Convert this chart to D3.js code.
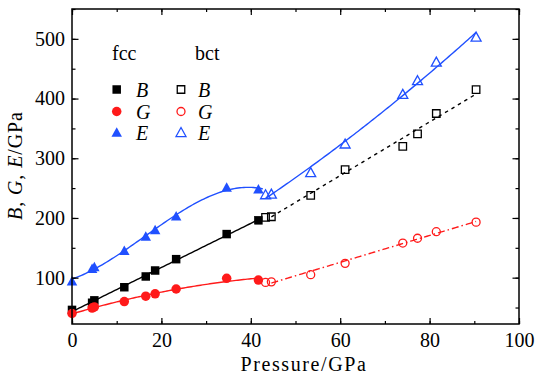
<!DOCTYPE html>
<html>
<head>
<meta charset="utf-8">
<script src="https://cdn.jsdelivr.net/npm/d3@7"></script>
<style>
  html, body { margin: 0; padding: 0; background: #fff; }
  svg { display: block; }
</style>
</head>
<body>
<svg id="chart" width="536" height="379" font-family="Liberation Serif"></svg>
<script>
// ---- data ----
const pressureFcc = [0, 4.5, 5.0, 11.7, 16.5, 18.6, 23.3, 34.6, 41.7];
const bFcc = [46, 58, 62, 84, 102, 112, 131, 173, 196];
const gFcc = [40, 49, 51, 60, 69, 73, 81, 99, 96];
const eFcc = [94, 115, 118, 145, 169, 180, 203, 251, 248];

const pressureBct = [43.3, 44.6, 53.4, 61.1, 74.0, 77.3, 81.5, 90.4];
const bBct = [201, 202, 238, 281, 320, 341, 375, 415];
const gBct = [92, 93, 105, 124, 158, 166, 177, 193];
const eBct = [239, 240, 276, 324, 407, 430, 461, 503];

const xTicks = [0, 20, 40, 60, 80, 100];
const yTicks = [100, 200, 300, 400, 500];

const BLUE = "#2050ff", RED = "#ff1a1a", BLACK = "#000";
const FONT = "Liberation Serif";

// ---- layout ----
const svg = d3.select("#chart");
const mLeft = 72, mRight = 519, mTop = 9, mBottom = 324;
const x = d3.scaleLinear().domain([0, 100]).range([mLeft, mRight]);
const y = d3.scaleLinear().domain([22.4, 550]).range([mBottom, mTop]);

// ---- least-squares polynomial fit ----
function polyfit(xs, ys, deg) {
  const n = deg + 1;
  const A = Array.from({length: n}, () => new Array(n + 1).fill(0));
  for (let k = 0; k < xs.length; k++) {
    for (let i = 0; i < n; i++) {
      for (let j = 0; j < n; j++) A[i][j] += Math.pow(xs[k], i + j);
      A[i][n] += ys[k] * Math.pow(xs[k], i);
    }
  }
  for (let i = 0; i < n; i++) {
    let p = i;
    for (let r = i + 1; r < n; r++) if (Math.abs(A[r][i]) > Math.abs(A[p][i])) p = r;
    [A[i], A[p]] = [A[p], A[i]];
    for (let r = 0; r < n; r++) {
      if (r === i) continue;
      const f = A[r][i] / A[i][i];
      for (let c = i; c <= n; c++) A[r][c] -= f * A[i][c];
    }
  }
  const coef = A.map((row, i) => row[n] / row[i]);
  return v => coef.reduce((s, c, i) => s + c * Math.pow(v, i), 0);
}
function fitLine(xs, ys, deg, x0, x1) {
  const f = polyfit(xs, ys, deg);
  return d3.range(0, 101).map(i => { const p = x0 + (x1 - x0) * i / 100; return [p, f(p)]; });
}
const line = d3.line().x(d => x(d[0])).y(d => y(d[1]));

// ---- fit curves ----
const fits = [
  {pts: fitLine(pressureFcc, eFcc, 3, 0, 42.7), color: BLUE, dash: null},
  {pts: fitLine(pressureFcc, bFcc, 1, 0, 41.7), color: BLACK, dash: null},
  {pts: fitLine(pressureFcc, gFcc, 2, 0, 41.7), color: RED, dash: null},
  {pts: fitLine(pressureBct, eBct, 2, 43.3, 90.4), color: BLUE, dash: null},
  {pts: fitLine(pressureBct, bBct, 1, 44.6, 90.4), color: BLACK, dash: "3.5,4"},
  {pts: fitLine(pressureBct, gBct, 1, 44.6, 90.4), color: RED, dash: "7,3,1.5,3"},
];
svg.append("g").selectAll("path").data(fits).join("path")
  .attr("d", d => line(d.pts))
  .attr("fill", "none")
  .attr("stroke", d => d.color)
  .attr("stroke-width", 1.4)
  .attr("stroke-dasharray", d => d.dash);

// ---- markers ----
function markerPath(shape, s) {
  if (shape === "square") return `M${-s/2},${-s/2}h${s}v${s}h${-s}Z`;
  if (shape === "triangle") { const h = s * 0.9; return `M0,${-h*0.55}L${s/2},${h*0.45}L${-s/2},${h*0.45}Z`; }
  const r = s / 2;
  return `M${r},0A${r},${r} 0 1,1 ${-r},0A${r},${r} 0 1,1 ${r},0Z`;
}
function drawMarkers(g, xs, ys, shape, color, filled, size) {
  g.append("g").selectAll("path").data(xs.map((p, i) => [p, ys[i]])).join("path")
    .attr("transform", d => `translate(${x(d[0])},${y(d[1])})`)
    .attr("d", markerPath(shape, size))
    .attr("fill", filled ? color : "none")
    .attr("stroke", filled ? "none" : color)
    .attr("stroke-width", 1.3);
}
const mg = svg.append("g");
drawMarkers(mg, pressureFcc, bFcc, "square", BLACK, true, 8.5);
drawMarkers(mg, pressureFcc, gFcc, "circle", RED, true, 9.5);
drawMarkers(mg, pressureFcc, eFcc, "triangle", BLUE, true, 10.5);
drawMarkers(mg, pressureBct, bBct, "square", BLACK, false, 7.5);
drawMarkers(mg, pressureBct, gBct, "circle", RED, false, 8);
drawMarkers(mg, pressureBct, eBct, "triangle", BLUE, false, 10);

// ---- axes (ticks inward on all four sides) ----
const fs = 20;
function styleAxis(g) {
  g.attr("font-family", FONT).attr("font-size", fs);
  g.select(".domain").remove();
  g.selectAll("line").attr("stroke", "#000").attr("stroke-width", 1.2);
}
function styleText(sel) {
  sel.attr("font-size", fs).attr("font-family", FONT).attr("fill", "#000");
}
const xMinor = d3.range(0, 101, 10);
const yMinor = d3.range(50, 551, 50);
// bottom
svg.append("g").attr("transform", `translate(0,${mBottom})`)
  .call(d3.axisBottom(x).tickValues(xMinor).tickSize(-3).tickFormat(""))
  .call(styleAxis);
svg.append("g").attr("transform", `translate(0,${mBottom})`)
  .call(d3.axisBottom(x).tickValues(xTicks).tickSize(-6).tickPadding(9).tickFormat(d3.format("d")))
  .call(styleAxis)
  .call(g => g.selectAll("text").call(styleText));
// top
svg.append("g").attr("transform", `translate(0,${mTop})`)
  .call(d3.axisTop(x).tickValues(xMinor).tickSize(-3).tickFormat(""))
  .call(styleAxis);
svg.append("g").attr("transform", `translate(0,${mTop})`)
  .call(d3.axisTop(x).tickValues(xTicks).tickSize(-6).tickFormat(""))
  .call(styleAxis);
// left
svg.append("g").attr("transform", `translate(${mLeft},0)`)
  .call(d3.axisLeft(y).tickValues(yMinor).tickSize(-3.5).tickFormat(""))
  .call(styleAxis);
svg.append("g").attr("transform", `translate(${mLeft},0)`)
  .call(d3.axisLeft(y).tickValues(yTicks).tickSize(-6.5).tickPadding(7).tickFormat(d3.format("d")))
  .call(styleAxis)
  .call(g => g.selectAll("text").call(styleText));
// right
svg.append("g").attr("transform", `translate(${mRight},0)`)
  .call(d3.axisRight(y).tickValues(yMinor).tickSize(-3.5).tickFormat(""))
  .call(styleAxis);
svg.append("g").attr("transform", `translate(${mRight},0)`)
  .call(d3.axisRight(y).tickValues(yTicks).tickSize(-6.5).tickFormat(""))
  .call(styleAxis);
// frame
svg.append("rect").attr("x", mLeft).attr("y", mTop)
  .attr("width", mRight - mLeft).attr("height", mBottom - mTop)
  .attr("fill", "none").attr("stroke", "#000").attr("stroke-width", 1.5);

// ---- axis titles ----
svg.append("text").attr("x", 304).attr("y", 371).attr("text-anchor", "middle")
  .call(styleText).attr("letter-spacing", 1.6).text("Pressure/GPa");
const yl = svg.append("text").attr("transform", `translate(22,${(mTop + mBottom) / 2 - 1}) rotate(-90)`)
  .attr("text-anchor", "middle").call(styleText).attr("letter-spacing", 0.9);
yl.append("tspan").attr("font-style", "italic").text("B");
yl.append("tspan").text(", ");
yl.append("tspan").attr("font-style", "italic").text("G");
yl.append("tspan").text(", ");
yl.append("tspan").attr("font-style", "italic").text("E");
yl.append("tspan").text("/GPa");

// ---- legend ----
const legendRows = ["B", "G", "E"];
const legendShapes = ["square", "circle", "triangle"];
const legendColors = [BLACK, RED, BLUE];
const legendSizes = [8.5, 9.5, 10.5];
const legendOpenSizes = [7.5, 8, 10];
const rowY = [89.5, 111.5, 132.5];
const lg = svg.append("g");
lg.append("text").attr("x", 112).attr("y", 60).call(styleText).text("fcc");
lg.append("text").attr("x", 195).attr("y", 60).call(styleText).text("bct");
legendRows.forEach((lab, i) => {
  lg.append("path").attr("transform", `translate(116.7,${rowY[i]})`)
    .attr("d", markerPath(legendShapes[i], legendSizes[i])).attr("fill", legendColors[i]);
  lg.append("path").attr("transform", `translate(181,${rowY[i]})`)
    .attr("d", markerPath(legendShapes[i], legendOpenSizes[i]))
    .attr("fill", "none").attr("stroke", legendColors[i]).attr("stroke-width", 1.3);
  lg.append("text").attr("x", 136).attr("y", rowY[i] + 7).call(styleText)
    .attr("font-style", "italic").text(lab);
  lg.append("text").attr("x", 198).attr("y", rowY[i] + 7).call(styleText)
    .attr("font-style", "italic").text(lab);
});
</script>
</body>
</html>
